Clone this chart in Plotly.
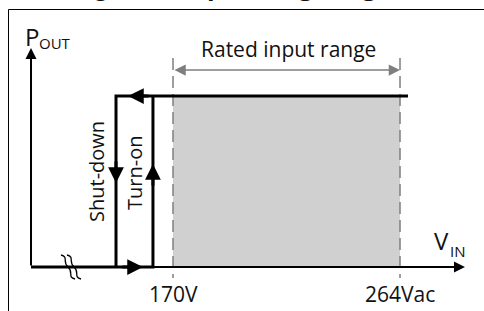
import plotly.graph_objects as go

W, H = 484, 311

# ---------------- data ----------------
V_RATED = [170, 264]            # rated input range (Vac)
TICK_LABELS = ["170V", "264Vac"]
V_SHUTDOWN = 146.4              # shut-down threshold (V)
V_TURNON = 161.7                # turn-on threshold (V)
P_LEVELS = [0, 1]               # output off / full output
V_LINE_END = 267.3              # end of the full-output line
V_ORIGIN = 111.2                # where the (broken) V axis starts
V_AXIS_END = 290.9
P_AXIS_TOP = 1.28
RANGE_LABEL = "Rated input range"
LOOP_LABELS = ["Shut-down", "Turn-on"]

# ---------------- scales ----------------
X_RANGE = [98.36, 298.78]
Y_RANGE = [-0.2573, 1.5614]


def px_x(px):
    return X_RANGE[0] + px * (X_RANGE[1] - X_RANGE[0]) / W


def px_y(py):
    return Y_RANGE[1] - py * (Y_RANGE[1] - Y_RANGE[0]) / H


FONT = "Open Sans"
BLACK = "#000000"
GREY = "#7f7f7f"
FILL = "#d0d0d0"
TXT = "#111111"

fig = go.Figure()

# dashed boundary lines of the rated range
for v in V_RATED:
    fig.add_trace(go.Scatter(
        x=[v, v], y=[px_y(58), px_y(278)], mode="lines",
        line=dict(color=GREY, width=1.5, dash="12px,6px"),
        hoverinfo="skip", showlegend=False))

# x axis (V_IN)
fig.add_annotation(x=V_AXIS_END, y=P_LEVELS[0], ax=V_ORIGIN, ay=P_LEVELS[0],
                   xref="x", yref="y", axref="x", ayref="y", text="",
                   showarrow=True, arrowhead=2, arrowsize=1.1, arrowwidth=2,
                   arrowcolor=BLACK)
# y axis (P_OUT)
fig.add_annotation(x=V_ORIGIN, y=P_AXIS_TOP, ax=V_ORIGIN, ay=P_LEVELS[0],
                   xref="x", yref="y", axref="x", ayref="y", text="",
                   showarrow=True, arrowhead=2, arrowsize=1.1, arrowwidth=2,
                   arrowcolor=BLACK)

# hysteresis loop
fig.add_trace(go.Scatter(
    x=[V_ORIGIN, V_TURNON, V_TURNON, None, V_LINE_END, V_SHUTDOWN, V_SHUTDOWN],
    y=[P_LEVELS[0], P_LEVELS[0], P_LEVELS[1], None, P_LEVELS[1], P_LEVELS[1], P_LEVELS[0]],
    mode="lines", line=dict(color=BLACK, width=3),
    hoverinfo="skip", showlegend=False))

# direction arrows along the loop (tip, tail)
arrows = [
    ((px_x(128), P_LEVELS[1]), (px_x(150), P_LEVELS[1])),          # left on top
    ((V_SHUTDOWN, px_y(183)), (V_SHUTDOWN, px_y(160))),            # down
    ((V_TURNON, px_y(164)), (V_TURNON, px_y(187))),                # up
    ((px_x(143), P_LEVELS[0]), (px_x(121), P_LEVELS[0])),          # right on bottom
]
for (tx, ty), (sx, sy) in arrows:
    fig.add_annotation(x=tx, y=ty, ax=sx, ay=sy, xref="x", yref="y",
                       axref="x", ayref="y", text="", showarrow=True,
                       arrowhead=2, arrowsize=1.05, arrowwidth=3,
                       arrowcolor=BLACK)

# dimension arrow for the rated range
fig.add_annotation(x=V_RATED[1], y=px_y(70), ax=V_RATED[0], ay=px_y(70),
                   xref="x", yref="y", axref="x", ayref="y", text="",
                   showarrow=True, arrowside="end+start", arrowhead=2,
                   startarrowhead=2, arrowsize=1.5, startarrowsize=1.5,
                   arrowwidth=1.5, arrowcolor=GREY)

# axis break squiggle
d_parts = []
for off in (0, 6):
    ax0, ay0 = 61 + off, 255
    mx, my = 68 + off, 267
    bx, by = 75 + off, 279
    d_parts.append(
        f"M{px_x(ax0)},{px_y(ay0)} "
        f"C{px_x(ax0 + 8)},{px_y(ay0 + 2)} {px_x(mx - 6)},{px_y(my - 5)} {px_x(mx)},{px_y(my)} "
        f"C{px_x(mx + 6)},{px_y(my + 5)} {px_x(bx - 8)},{px_y(by - 2)} {px_x(bx)},{px_y(by)}")
fig.add_shape(type="path", path=" ".join(d_parts), xref="x", yref="y",
              line=dict(color=BLACK, width=1.3))

# shaded rated region
fig.add_shape(type="rect", x0=V_RATED[0], x1=V_RATED[1], y0=P_LEVELS[0],
              y1=P_LEVELS[1], xref="x", yref="y", fillcolor=FILL,
              line=dict(width=0), layer="below")

# frame lines
fig.add_shape(type="line", xref="paper", yref="paper", x0=8.5 / W, x1=1,
              y0=1 - 9.5 / H, y1=1 - 9.5 / H, line=dict(color=BLACK, width=1))
fig.add_shape(type="line", xref="paper", yref="paper", x0=8.5 / W, x1=8.5 / W,
              y0=1 - 9.5 / H, y1=0, line=dict(color=BLACK, width=1))

# texts
fig.add_annotation(x=px_x(288), y=px_y(49), xref="x", yref="y",
                   text=RANGE_LABEL, showarrow=False,
                   font=dict(family=FONT, size=21, color=TXT))
fig.add_annotation(x=px_x(96), y=px_y(172), xref="x", yref="y",
                   text=LOOP_LABELS[0], textangle=-90, showarrow=False,
                   font=dict(family=FONT, size=20, color=TXT))
fig.add_annotation(x=px_x(134), y=px_y(173), xref="x", yref="y",
                   text=LOOP_LABELS[1], textangle=-90, showarrow=False,
                   font=dict(family=FONT, size=20, color=TXT))
for v, lab in zip(V_RATED, TICK_LABELS):
    fig.add_annotation(x=v, y=px_y(294), xref="x", yref="y", text=lab,
                       showarrow=False,
                       font=dict(family=FONT, size=21, color=TXT))

# axis titles
fig.add_annotation(x=px_x(31.5), y=px_y(36), xref="x", yref="y", text="P",
                   showarrow=False, font=dict(family=FONT, size=24, color=TXT))
fig.add_annotation(x=px_x(37), y=px_y(43), xref="x", yref="y", text="OUT",
                   xanchor="left", showarrow=False,
                   font=dict(family=FONT, size=15, color=TXT))
fig.add_annotation(x=px_x(441), y=px_y(240), xref="x", yref="y", text="V",
                   showarrow=False, font=dict(family=FONT, size=24, color=TXT))
fig.add_annotation(x=px_x(448), y=px_y(251), xref="x", yref="y", text="IN",
                   xanchor="left", showarrow=False,
                   font=dict(family=FONT, size=15, color=TXT))

# cut-off caption above the frame (only descenders visible)
fig.add_annotation(x=px_x(168), y=px_y(4.2), xref="x", yref="y",
                   text="Figure 3:", xanchor="right", yanchor="bottom",
                   showarrow=False, font=dict(family=FONT, size=22, color=TXT))
fig.add_annotation(x=px_x(185), y=px_y(4.2), xref="x", yref="y",
                   text="<b>Operating range</b>", xanchor="left",
                   yanchor="bottom", showarrow=False,
                   font=dict(family=FONT, size=25, color=TXT))

fig.update_xaxes(range=X_RANGE, visible=False, fixedrange=True)
fig.update_yaxes(range=Y_RANGE, visible=False, fixedrange=True)
fig.update_layout(width=W, height=H, margin=dict(l=0, r=0, t=0, b=0, pad=0),
                  paper_bgcolor="white", plot_bgcolor="white",
                  showlegend=False)

fig.write_html("out.html", config={"displayModeBar": False},
               post_script="document.body.style.margin='0px';document.body.style.overflow='hidden';")
